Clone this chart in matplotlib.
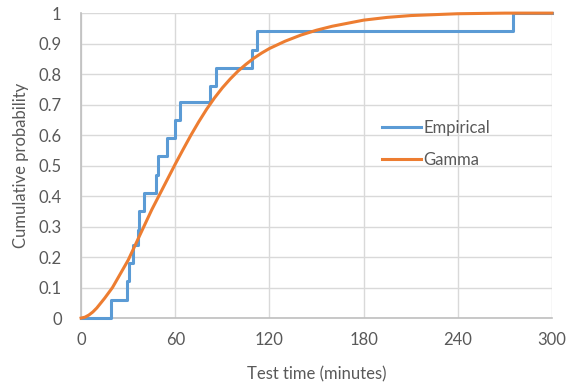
import matplotlib.pyplot as plt

# empirical cdf (step) - test times in minutes
emp_time = [0, 19, 29, 30.5, 33, 36, 37, 40, 48, 49, 55, 60, 63, 82, 86, 109, 112, 275, 300]
emp_prob = [0, 0.06, 0.12, 0.18, 0.24, 0.29, 0.35, 0.41, 0.47, 0.53, 0.59, 0.65, 0.71,
            0.76, 0.82, 0.88, 0.94, 1.0, 1.0]

# fitted gamma cdf
gam_time = [0, 2.5, 5, 7.5, 10, 15, 20, 25, 30, 35, 40, 45, 50, 55, 60, 65, 70, 75, 80, 85,
            90, 95, 100, 105, 110, 115, 120, 130, 140, 150, 160, 170, 180, 195, 210, 225,
            240, 270, 300]
gam_prob = [0, 0.003, 0.01, 0.02, 0.033, 0.065, 0.10, 0.145, 0.19, 0.245, 0.30, 0.355,
            0.405, 0.455, 0.505, 0.553, 0.60, 0.644, 0.685, 0.722, 0.755, 0.784, 0.81,
            0.832, 0.852, 0.869, 0.884, 0.908, 0.928, 0.944, 0.957, 0.967, 0.977, 0.986,
            0.992, 0.995, 0.998, 1.0, 1.0]

xticks = [0, 60, 120, 180, 240, 300]
yticks = [0, 0.1, 0.2, 0.3, 0.4, 0.5, 0.6, 0.7, 0.8, 0.9, 1]
ylabels = ["0", "0.1", "0.2", "0.3", "0.4", "0.5", "0.6", "0.7", "0.8", "0.9", "1"]

txt = "#595959"
plt.rcParams["font.family"] = ["Lato", "DejaVu Sans"]

fig = plt.figure(figsize=(5.75, 3.86), dpi=100)
ax = fig.add_axes([0.141, 0.176, 0.819, 0.790])

ax.step(emp_time, emp_prob, where="post", color="#5b9bd5", lw=2.2, label="Empirical",
        clip_on=False, zorder=3)
ax.plot(gam_time, gam_prob, color="#ed7d31", lw=2.2, label="Gamma", clip_on=False, zorder=4)

ax.set_xlim(0, 300)
ax.set_ylim(0, 1)
ax.set_xticks(xticks)
ax.set_yticks(yticks)
ax.set_yticklabels(ylabels)
ax.grid(True, color="#d9d9d9", lw=1)
ax.set_axisbelow(True)

for s in ["top", "right"]:
    ax.spines[s].set_visible(False)
ax.spines["left"].set_color("#bfbfbf")
ax.spines["bottom"].set_color("#bfbfbf")
ax.spines["left"].set_linewidth(1.2)
ax.spines["bottom"].set_linewidth(1.2)

ax.tick_params(length=0, labelsize=12, labelcolor=txt)
ax.tick_params(axis="y", pad=14)
ax.tick_params(axis="x", pad=10)

ax.set_xlabel("Test time (minutes)", fontsize=12, color=txt, labelpad=13)
ax.set_ylabel("Cumulative probability", fontsize=12, color=txt, labelpad=7)

ax.legend(loc="upper left", bbox_to_anchor=(0.622, 0.678), frameon=False, fontsize=12,
          handlelength=2.3, handletextpad=0.15, labelspacing=1.0, borderpad=0,
          labelcolor=txt)

fig.savefig("out.png", dpi=100)
